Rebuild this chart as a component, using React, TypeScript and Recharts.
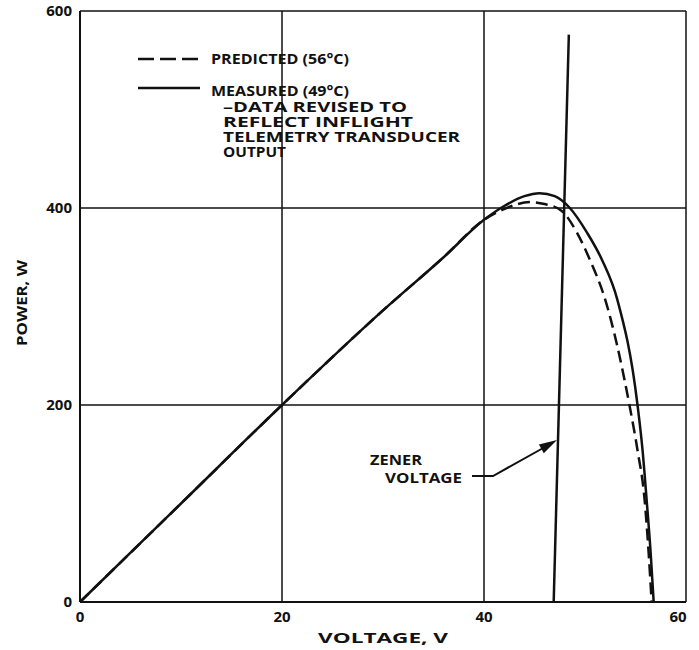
import React from "react";
import {
  ComposedChart,
  Line,
  XAxis,
  YAxis,
  CartesianGrid,
  Customized,
} from "recharts";

// values (volts, watts)
const measuredV = [0, 10, 20, 30, 36, 40, 42, 44, 45.5, 47, 48.5, 50.2, 51.7, 53.2, 55.2, 55.7, 56.1, 56.5, 56.8];
const measuredP = [0, 100, 200, 296, 350, 388, 402, 412, 415, 412, 400, 375, 347, 307, 200, 154, 104, 50, 0];

const predictedV = [0, 10, 20, 30, 36, 40, 42, 44.6, 46, 47.7, 49.2, 50.5, 52.0, 54.4, 55.2, 55.9, 56.3, 56.6];
const predictedP = [0, 100, 200, 296, 350, 388, 399, 406, 404, 397, 375, 347, 307, 200, 154, 104, 50, 0];

const zenerV = [46.9, 48.4];
const zenerP = [0, 576];

const xTicks = [0, 20, 40, 60];
const yTicks = [0, 200, 400, 600];

const legendLines = ["PREDICTED (56\u00B0C)", "MEASURED (49\u00B0C)"];
const noteLines = ["\u2013DATA REVISED TO", "REFLECT INFLIGHT", "TELEMETRY TRANSDUCER", "OUTPUT"];
const noteWidths = [184, 190, 237, 63];

const toRows = (vs: number[], ps: number[]) => vs.map((v, i) => ({ v, p: ps[i] }));

const measured = toRows(measuredV, measuredP);
const predicted = toRows(predictedV, predictedP);
const zener = toRows(zenerV, zenerP);

const FONT = "'Open Sans', 'DejaVu Sans', sans-serif";
const ink = "#111";

const T = ({ x, y, w, children, ...rest }: any) => (
  <text x={x} y={y} textLength={w} lengthAdjust="spacingAndGlyphs" {...rest}>
    {children}
  </text>
);

const Annotations = () => (
  <g fontFamily={FONT} fontWeight={700} fontSize={14} fill={ink}>
    {/* legend */}
    <line x1={138} y1={59} x2={200} y2={59} stroke={ink} strokeWidth={2.5} strokeDasharray="16 6" />
    <line x1={138} y1={88} x2={200} y2={88} stroke={ink} strokeWidth={2.5} />
    <T x={211} y={64} w={138}>{legendLines[0]}</T>
    <T x={211} y={96} w={138}>{legendLines[1]}</T>
    {noteLines.map((t, i) => (
      <T key={t} x={223} y={112 + i * 15} w={noteWidths[i]}>
        {t}
      </T>
    ))}
    {/* zener callout */}
    <T x={370} y={465} w={52}>ZENER</T>
    <T x={385} y={483} w={77}>VOLTAGE</T>
    <polyline points="472,476 493,476 545,447" fill="none" stroke={ink} strokeWidth={2} />
    <polygon points="557,440 543.8,453.2 538.9,444.4" fill={ink} />
    {/* axis titles */}
    <T x={318} y={643} w={130}>VOLTAGE, V</T>
    <T x={0} y={0} w={86} transform="translate(27,346) rotate(-90)">POWER, W</T>
  </g>
);

const XTick = ({ x, y, payload }: any) => (
  <text
    x={payload.value === 60 ? x - 8 : x}
    y={y + 12}
    textAnchor="middle"
    fill={ink}
    fontFamily={FONT}
    fontWeight={700}
    fontSize={15}
  >
    {payload.value}
  </text>
);

export default function App() {
  return (
    <div style={{ position: "absolute", left: 0, top: 0, background: "#fff" }}>
      <ComposedChart
        width={699}
        height={650}
        margin={{ top: 11, right: 13, bottom: 18, left: 20 }}
      >
        <CartesianGrid stroke={ink} strokeWidth={1.5} strokeDasharray="" />
        <XAxis
          type="number"
          dataKey="v"
          domain={[0, 60]}
          ticks={xTicks}
          height={30}
          tickLine={false}
          axisLine={{ stroke: ink, strokeWidth: 2 }}
          tick={<XTick />}
        />
        <YAxis
          type="number"
          dataKey="p"
          domain={[0, 600]}
          ticks={yTicks}
          width={60}
          tickLine={false}
          axisLine={{ stroke: ink, strokeWidth: 2 }}
          tickMargin={2}
          tick={{ fill: ink, fontFamily: FONT, fontWeight: 700, fontSize: 15 }}
        />
        <Line
          data={predicted}
          dataKey="p"
          type="monotone"
          stroke={ink}
          strokeWidth={2.5}
          strokeDasharray="12 6"
          dot={false}
          isAnimationActive={false}
        />
        <Line
          data={measured}
          dataKey="p"
          type="monotone"
          stroke={ink}
          strokeWidth={2.5}
          dot={false}
          isAnimationActive={false}
        />
        <Line
          data={zener}
          dataKey="p"
          type="linear"
          stroke={ink}
          strokeWidth={2.5}
          dot={false}
          isAnimationActive={false}
        />
        <Customized component={Annotations} />
      </ComposedChart>
    </div>
  );
}
